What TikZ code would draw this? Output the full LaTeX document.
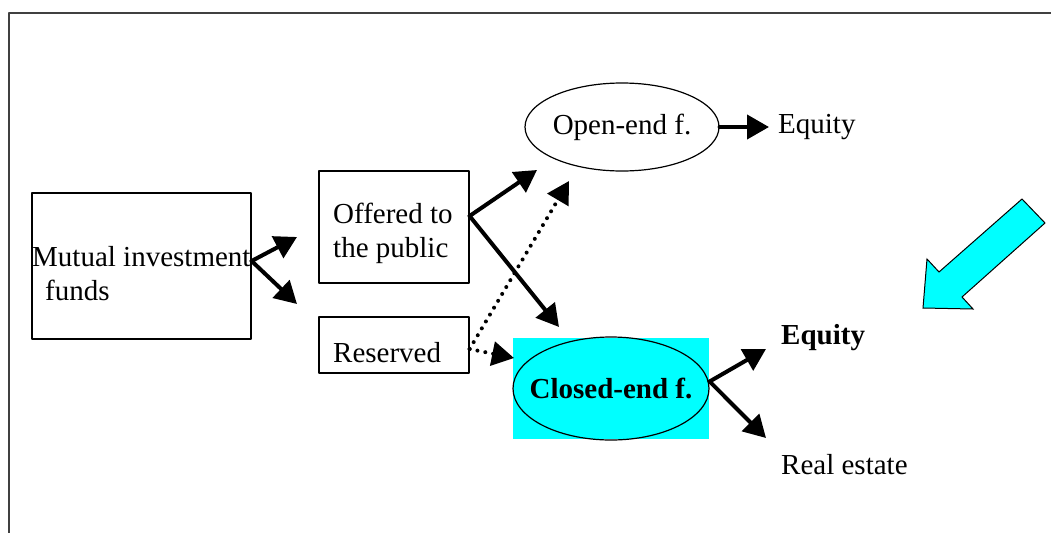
\documentclass[tikz,border=0pt]{standalone}
\usepackage{fontspec}
\setmainfont{Liberation Serif}
\usetikzlibrary{arrows.meta,shapes.geometric,calc,positioning}
\definecolor{fundcyan}{RGB}{0,255,255}

\begin{document}
\fontsize{29}{34}\selectfont
\begin{tikzpicture}[x=1pt,y=-1pt,line cap=round,line join=round,
  >={Triangle[length=22pt,width=24pt]},
  box/.style={draw,line width=1.2pt,rectangle,inner sep=0pt},
  oval/.style={draw,line width=1.2pt,ellipse,inner sep=0pt},
  flow/.style={->,line width=4pt},
  flowdot/.style={->,line width=4pt,dash pattern=on 0pt off 8pt},
  lbl/.style={anchor=west,inner sep=0pt}]
\useasboundingbox (0,0) rectangle (1051,533);
\draw[line width=1.5pt,black!75,line cap=butt] (1051,13) -- (9,13) -- (9,533);
% boxes on the left
\node[box,minimum width=219pt,minimum height=146pt] (mif) at (141.5,266) {};
\node[lbl,align=left] (miftxt) at (32,274) {Mutual investment\\\hspace*{13pt}funds};
\node[box,minimum width=150pt,minimum height=112pt] (offered) at (394,227) {};
\node[lbl,align=left] (offtxt) at (333,233) {Offered to\\the public};
\node[box,minimum width=150pt,minimum height=56pt] (reserved) at (394,345) {};
\node[lbl] (restxt) at (333,353) {Reserved};
% funds
\node[oval,minimum width=194pt,minimum height=88pt] (openend) at (622,127) {\makebox[0pt]{Open-end f.}};
\node[fill=fundcyan,minimum width=196pt,minimum height=101pt,inner sep=0pt] (closedbg) at (611,388.5) {};
\node[oval,minimum width=196pt,minimum height=103pt,font=\bfseries] (closedend) at (611,388.5) {\makebox[0pt]{Closed-end f.}};
\node[lbl] (eqopen) at (778,127) {Equity};
\node[lbl,font=\bfseries] (eqclosed) at (781,338) {Equity};
\node[lbl] (realest) at (781,465) {Real estate};
\coordinate (mifup) at (297,237);
\coordinate (mifdn) at (297,304);
\coordinate (toopen) at (537,170);
\coordinate (toclosed) at (559,327);
\coordinate (dotopen) at (569,181);
\coordinate (dotclosed) at (514,358);
\coordinate (clup) at (766,349);
\coordinate (cldn) at (766,438);
\draw[flow] ([yshift=5pt]mif.east) -- (mifup);
\draw[flow] ([yshift=5pt]mif.east) -- (mifdn);
\draw[flow] ([yshift=11pt]offered.east) -- (toopen);
\draw[flow] ([yshift=11pt]offered.east) -- (toclosed);
\draw[flowdot] ([yshift=-4pt]reserved.east) -- (dotopen);
\draw[flowdot] ([yshift=-4pt]reserved.east) -- (dotclosed);
\draw[flow] (openend.east) -- ([xshift=-9pt]eqopen.west);
\draw[flow] ([yshift=7pt]closedend.east) -- (clup);
\draw[flow] ([yshift=7pt]closedend.east) -- (cldn);
% big arrow
\draw[fill=fundcyan,line width=1pt,line join=miter] (1022,199) -- (1045,223) -- (962,297) -- (973,309)
  -- (923,308) -- (927,259) -- (939,272) -- cycle;
\end{tikzpicture}
\end{document}
